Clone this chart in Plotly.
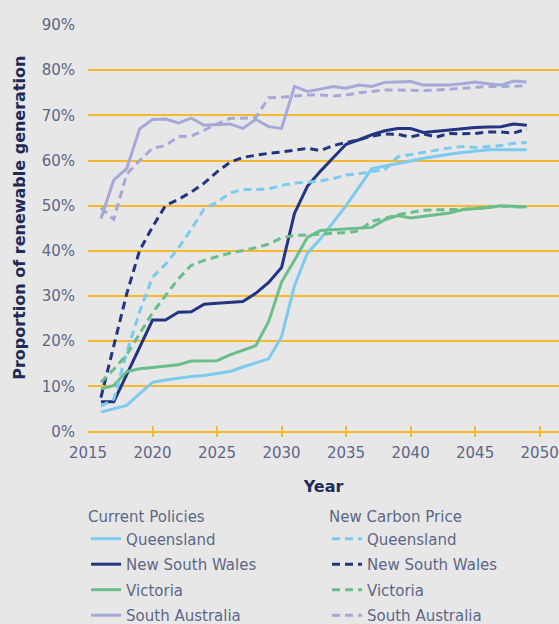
import plotly.graph_objects as go

years = list(range(2016, 2050))

qld_current = [4.3, 5.1, 5.8, 8.4, 10.9, 11.4, 11.8, 12.2, 12.4, 12.8, 13.3, 14.3, 15.2, 16.1, 21.0, 32.3, 39.5,
               42.6, 46.3, 50.0, 54.1, 58.2, 58.8, 59.3, 59.9, 60.5, 61.0, 61.4, 61.8, 62.1, 62.4, 62.4, 62.4, 62.4]
nsw_current = [6.6, 6.6, 12.6, 18.6, 24.7, 24.7, 26.4, 26.5, 28.2, 28.4, 28.6, 28.8, 30.6, 33.0, 36.3, 48.3, 54.3,
               57.6, 60.6, 63.6, 64.6, 65.7, 66.6, 67.1, 67.1, 66.2, 66.5, 66.8, 67.1, 67.3, 67.4, 67.5, 68.1, 67.8]
vic_current = [9.4, 10.2, 13.3, 13.9, 14.2, 14.5, 14.8, 15.6, 15.7, 15.7, 17.0, 18.0, 19.0, 24.4, 33.1, 37.9, 43.0,
               44.5, 44.7, 44.9, 45.1, 45.2, 46.9, 47.8, 47.3, 47.7, 48.0, 48.4, 49.1, 49.3, 49.6, 50.0, 49.8, 49.7]
sa_current = [47.1, 55.7, 58.2, 67.0, 69.1, 69.2, 68.3, 69.4, 67.8, 68.0, 68.1, 67.1, 69.1, 67.5, 67.1, 76.4, 75.3,
              75.8, 76.4, 76.0, 76.7, 76.4, 77.3, 77.4, 77.5, 76.7, 76.7, 76.7, 77.0, 77.4, 77.0, 76.7, 77.6, 77.4]

qld_carbon = [5.6, 7.2, 17.5, 26.5, 34.2, 37.0, 40.6, 44.8, 49.3, 50.8, 52.8, 53.6, 53.6, 53.7, 54.5, 55.0, 55.2,
              55.5, 56.0, 56.8, 57.1, 57.5, 58.0, 60.8, 61.3, 61.7, 62.2, 62.8, 63.1, 62.9, 63.1, 63.3, 63.8, 64.0]
nsw_carbon = [7.5, 19.0, 30.5, 40.1, 45.3, 50.0, 51.4, 53.0, 55.0, 57.5, 59.6, 60.7, 61.2, 61.6, 61.9, 62.3, 62.7,
              62.2, 63.3, 64.0, 64.6, 65.4, 65.9, 65.8, 65.2, 65.9, 65.2, 66.0, 65.9, 66.0, 66.3, 66.3, 66.1, 67.0]
vic_carbon = [10.9, 13.8, 17.0, 21.5, 26.3, 30.1, 33.8, 36.8, 37.9, 38.7, 39.5, 40.1, 40.7, 41.5, 42.9, 43.4, 43.5,
              43.7, 43.9, 44.0, 44.4, 46.6, 47.2, 48.0, 48.5, 49.0, 49.1, 49.1, 49.2, 49.4, 49.6, 49.9, 49.8, 49.7]
sa_carbon = [49.5, 47.0, 57.0, 60.0, 62.7, 63.3, 65.3, 65.4, 66.7, 68.1, 69.3, 69.4, 69.5, 73.9, 74.0, 74.3, 74.5,
             74.5, 74.3, 74.5, 75.0, 75.3, 75.6, 75.6, 75.5, 75.5, 75.6, 75.8, 76.0, 76.2, 76.4, 76.4, 76.4, 76.5]

x_ticks = [2015, 2020, 2025, 2030, 2035, 2040, 2045, 2050]
y_ticks = [0, 10, 20, 30, 40, 50, 60, 70, 80, 90]
y_labels = ["0%", "10%", "20%", "30%", "40%", "50%", "60%", "70%", "80%", "90%"]

states = ["Queensland", "New South Wales", "Victoria", "South Australia"]
current_series = [qld_current, nsw_current, vic_current, sa_current]
carbon_series = [qld_carbon, nsw_carbon, vic_carbon, sa_carbon]
colors = ["#7ccbee", "#233480", "#6bbd8c", "#a4a9d8"]

BG = "#e8e7e7"
GOLD = "#f6b82c"
TICK = "#5b6787"
DARK = "#1e2b57"
FONT = "DejaVu Sans"

fig = go.Figure()
for name, vals, col in zip(states, current_series, colors):
    fig.add_trace(go.Scatter(x=years, y=vals, mode="lines", name=name,
                             line=dict(color=col, width=3),
                             legend="legend", legendgroup="c_" + name))
for name, vals, col in zip(states, carbon_series, colors):
    fig.add_trace(go.Scatter(x=years, y=vals, mode="lines", name=name,
                             line=dict(color=col, width=3, dash="8px,5px"),
                             legend="legend2", legendgroup="n_" + name))

legend_common = dict(
    xref="container", yref="container", y=0.194, yanchor="top", xanchor="left",
    bgcolor="rgba(0,0,0,0)", font=dict(family=FONT, size=15, color=TICK),
    tracegroupgap=3, itemwidth=30, orientation="v", maxheight=140,
)

fig.update_layout(
    width=559, height=624,
    margin=dict(l=88, r=0, t=25, b=187, autoexpand=False),
    paper_bgcolor=BG, plot_bgcolor=BG,
    font=dict(family=FONT, size=15, color=TICK),
    xaxis=dict(range=[2015, 2051.5], tickvals=x_ticks, showgrid=False, zeroline=False,
               showline=False, ticks="inside", ticklen=11, tickcolor=GOLD, tickwidth=1.5,
               tickfont=dict(family=FONT, size=15, color=TICK), ticklabelstandoff=5,
               title=dict(text="<b>Year</b>", font=dict(family=FONT, size=16, color=DARK), standoff=19)),
    yaxis=dict(range=[-1.2, 90], tickvals=y_ticks, ticktext=y_labels, showgrid=True,
               gridcolor=GOLD, gridwidth=1.5, zeroline=False, showline=False, ticks="",
               tickfont=dict(family=FONT, size=15, color=TICK), ticklabelstandoff=12),
    legend=dict(title=dict(text="Current Policies", font=dict(family=FONT, size=15, color=TICK)),
                x=0.154, **legend_common),
    legend2=dict(title=dict(text="New Carbon Price", font=dict(family=FONT, size=15, color=TICK)),
                 x=0.585, **legend_common),
    annotations=[dict(text="<b>Proportion of renewable generation</b>", textangle=-90,
                      xref="paper", yref="paper", x=-0.1444, y=0.532,
                      xanchor="center", yanchor="middle", showarrow=False,
                      font=dict(family=FONT, size=16, color=DARK))],
)

fig.write_html("out.html", config={"displayModeBar": False},
               post_script="document.body.style.margin='0';document.body.style.padding='0';")
